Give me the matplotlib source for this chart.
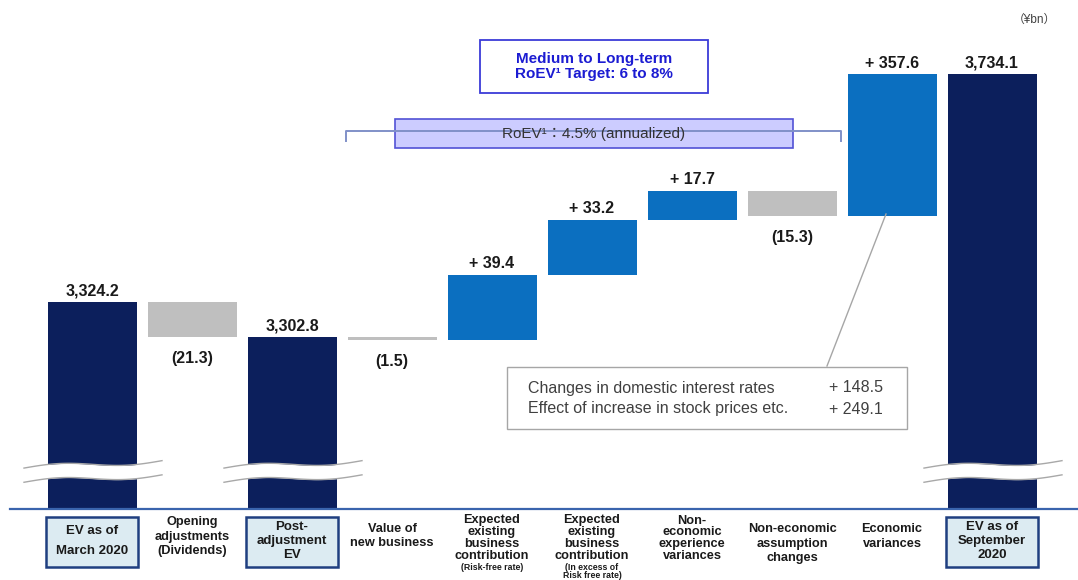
import numpy as np
import matplotlib.pyplot as plt
from matplotlib.patches import Rectangle
from matplotlib.lines import Line2D
from matplotlib.transforms import blended_transform_factory

plt.rcParams['font.family'] = ['Liberation Sans', 'Noto Sans CJK JP', 'DejaVu Sans']

# EV movement, ¥bn
categories = ['EV as of\nMarch 2020', 'Opening\nadjustments\n(Dividends)', 'Post-\nadjustment\nEV',
              'Value of\nnew business', 'Expected\nexisting\nbusiness\ncontribution',
              'Expected\nexisting\nbusiness\ncontribution', 'Non-\neconomic\nexperience\nvariances',
              'Non-economic\nassumption\nchanges', 'Economic\nvariances', 'EV as of\nSeptember\n2020']
sub_notes = {4: '(Risk-free rate)', 5: '(In excess of\nRisk free rate)'}
kinds = ['total', 'delta', 'total', 'delta', 'delta', 'delta', 'delta', 'delta', 'delta', 'total']
values = [3324.2, -21.3, 3302.8, -1.5, 39.4, 33.2, 17.7, -15.3, 357.6, 3734.1]

breakdown_labels = ['Changes in domestic interest rates', 'Effect of increase in stock prices etc.']
breakdown_values = [148.5, 249.1]
roev = 4.5
roev_target = '6 to 8%'

NAVY = '#0c1f5c'
BLUE = '#0b6fc0'
GRAY = '#bfbfbf'

# waterfall geometry
bottoms = []
running = 0.0
for k, v in zip(kinds, values):
    if k == 'total':
        running = v
        bottoms.append(None)
    else:
        bottoms.append(running)
        running += v

# the axis is compressed above the top of the small movements
brk = bottoms[6] + values[6]
squeeze = 0.206


def fwd(v):
    v = np.asarray(v, dtype=float)
    return np.where(v <= brk, v, brk + (v - brk) * squeeze)


def inv(u):
    u = np.asarray(u, dtype=float)
    return np.where(u <= brk, u, brk + (u - brk) / squeeze)


W, H = 1078, 580
fig = plt.figure(figsize=(W / 100, H / 100), dpi=100)
ax = fig.add_axes([0, 71 / H, 1, 509 / H])
ax.set_yscale('function', functions=(fwd, inv))
y_lo = 3198.7
y_hi = float(inv(y_lo + 509 / 1.65))
ax.set_ylim(y_lo, y_hi)
ax.set_xlim(-0.92, 9.86)
for s in ax.spines.values():
    s.set_visible(False)
ax.set_xticks([])
ax.set_yticks([])
ax.minorticks_off()

lab_kw = dict(ha='center', fontsize=11.5, fontweight='bold', color='#1a1a1a',
              textcoords='offset points')
for i, (k, v, b) in enumerate(zip(kinds, values, bottoms)):
    if k == 'total':
        ax.bar(i, v - y_lo, bottom=y_lo, width=0.89, color=NAVY, zorder=2)
        ax.annotate(f'{v:,.1f}', (i, v), xytext=(0, 2.5), va='bottom', **lab_kw)
    else:
        col = BLUE if v > 0 else GRAY
        ax.bar(i, v, bottom=b, width=0.89, color=col, zorder=2)
        if v > 0:
            ax.annotate(f'+ {v:.1f}', (i, b + v), xytext=(0, 2.5), va='bottom', **lab_kw)
        else:
            ax.annotate(f'({abs(v):.1f})', (i, b + v), xytext=(0, -10), va='top', **lab_kw)

# baseline
ax.plot([-0.82, 9.86], [y_lo, y_lo], color='#3a64ad', lw=1.6, clip_on=False, zorder=3)

# axis break marks on the total bars
t = np.linspace(0, 1, 80)
for i in (0, 2, 9):
    xs = i - 0.68 + 1.38 * t
    yc = y_lo + 20.5 + 4.5 * t + 1.6 * np.sin(2 * np.pi * t)
    ax.fill_between(xs, yc - 4.3, yc + 4.3, color='white', zorder=4, lw=0)
    ax.plot(xs, yc - 4.3, color='#a8a8a8', lw=1, zorder=5)
    ax.plot(xs, yc + 4.3, color='#a8a8a8', lw=1, zorder=5)

# category labels
tr = blended_transform_factory(ax.transData, ax.transAxes)


def yfrac(py):
    return (509 - py) / 509


first_line = [0, 523, 0, 529, 521, 521, 521, 530, 530, 0]
for i, lab in enumerate(categories):
    n = lab.count('\n') + 1
    if kinds[i] == 'total':
        ax.add_patch(Rectangle((i - 0.46, yfrac(567)), 0.92, yfrac(517) - yfrac(567),
                               transform=tr, facecolor='#dcebf2', edgecolor='#1f3f80',
                               lw=1.8, clip_on=False, zorder=3))
        ax.text(i, yfrac(541), lab, transform=tr, ha='center', va='center', fontsize=9.5,
                fontweight='bold', color='#1a1a1a',
                linespacing=1.85 if n == 2 else 1.25, zorder=4)
    else:
        ls = 0.98 if n == 4 else 1.25
        ax.text(i, yfrac(first_line[i] - 6.5), lab, transform=tr, ha='center', va='top',
                fontsize=9.2, fontweight='bold', color='#1a1a1a',
                linespacing=ls, clip_on=False)
        if i in sub_notes:
            ax.text(i, yfrac(563), sub_notes[i], transform=tr, ha='center', va='top',
                    fontsize=6.3, fontweight='bold', color='#1a1a1a', linespacing=0.9)


def fx(px):
    return px / W


def fy(py):
    return 1 - py / H


def fig_rect(x0, y0, x1, y1, **kw):
    fig.patches.append(Rectangle((fx(x0), fy(y1)), fx(x1) - fx(x0), fy(y0) - fy(y1),
                                 transform=fig.transFigure, **kw))


# target box
fig_rect(480, 40, 708, 93, facecolor='white', edgecolor='#3b3bd8', lw=1.3)
fig.text(fx(594), fy(66.5), f'Medium to Long-term\nRoEV¹ Target: {roev_target}',
         ha='center', va='center', fontsize=11, fontweight='bold', color='#1c1cd2',
         linespacing=1.15)

# RoEV bracket
fig.lines.append(Line2D([fx(346), fx(346), fx(841), fx(841)], [fy(141), fy(131), fy(131), fy(141)],
                        transform=fig.transFigure, color='#8090c8', lw=1.4))
fig_rect(395, 119, 793, 148, facecolor='#ccccff', edgecolor='#5252d6', lw=1.2)
fig.text(fx(594), fy(134), f'RoEV¹：{roev}% (annualized)', ha='center', va='center',
         fontsize=11, color='#333333')

# breakdown of economic variances
fig.lines.append(Line2D([fx(827), fx(886)], [fy(366), fy(214)], transform=fig.transFigure,
                        color='#a6a6a6', lw=1))
fig_rect(507, 367, 907, 429, facecolor='white', edgecolor='#a6a6a6', lw=1)
for row, (lab, val) in enumerate(zip(breakdown_labels, breakdown_values)):
    py = 388 + row * 21
    fig.text(fx(528), fy(py), lab, ha='left', va='center', fontsize=11.5, color='#404040')
    fig.text(fx(883), fy(py), f'+ {val:.1f}', ha='right', va='center', fontsize=11.5,
             color='#404040')

fig.text(fx(1056), fy(20), '（¥bn）', ha='right', va='center', fontsize=8.5, color='#404040')

fig.savefig('out.png', dpi=100)
